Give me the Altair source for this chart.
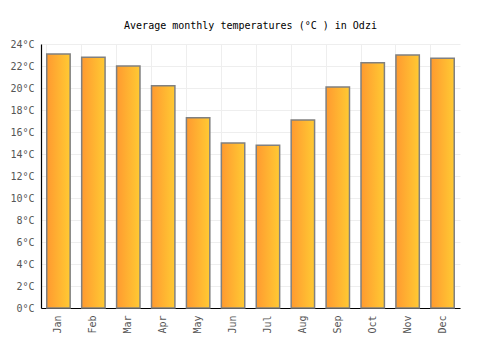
import altair as alt
import pandas as pd

months = ["Jan", "Feb", "Mar", "Apr", "May", "Jun", "Jul", "Aug", "Sep", "Oct", "Nov", "Dec"]
temps = [23.1, 22.8, 22.0, 20.2, 17.3, 15.0, 14.8, 17.1, 20.1, 22.3, 23.0, 22.7]
y_ticks = list(range(0, 25, 2))

df = pd.DataFrame({"month": months, "temp": temps})

font = "DejaVu Sans Mono"

gradient = alt.Gradient(
    gradient="linear",
    stops=[alt.GradientStop(color="#FF9A30", offset=0),
           alt.GradientStop(color="#FFCA33", offset=1)],
    x1=0, x2=1, y1=0, y2=0,
)

chart = alt.Chart(df).mark_bar(
    fill=gradient, stroke="#808080", strokeWidth=1.5
).encode(
    x=alt.X("month:N", sort=months, title=None,
            scale=alt.Scale(paddingInner=0.33, paddingOuter=0.165),
            axis=alt.Axis(labelAngle=-90, labelColor="#555", labelFontSize=10, labelFont=font,
                          domainColor="#000", domainWidth=1.2, ticks=False, labelPadding=7,
                          grid=True, gridColor="#eeeeee", gridWidth=1, bandPosition=0,
                          labelBaseline="middle", labelAlign="right")),
    y=alt.Y("temp:Q", title=None,
            scale=alt.Scale(domain=[0, 24], nice=False),
            axis=alt.Axis(values=y_ticks, labelExpr="datum.value + '°C'",
                          labelColor="#555", labelFontSize=10, labelFont=font,
                          domainColor="#000", domainWidth=1.2, ticks=False, labelPadding=7,
                          grid=True, gridColor="#eeeeee", gridWidth=1)),
).properties(
    width=419, height=264,
    title=alt.TitleParams("Average monthly temperatures (°C ) in Odzi", font=font,
                          fontSize=10, fontWeight="normal", color="#000", offset=8,
                          anchor="middle"),
    autosize=alt.AutoSizeParams(type="none"),
    padding={"left": 41, "top": 44, "right": 40, "bottom": 42},
).configure_view(stroke=None)

chart.save("out.html", embed_options={"renderer": "svg", "actions": False})
